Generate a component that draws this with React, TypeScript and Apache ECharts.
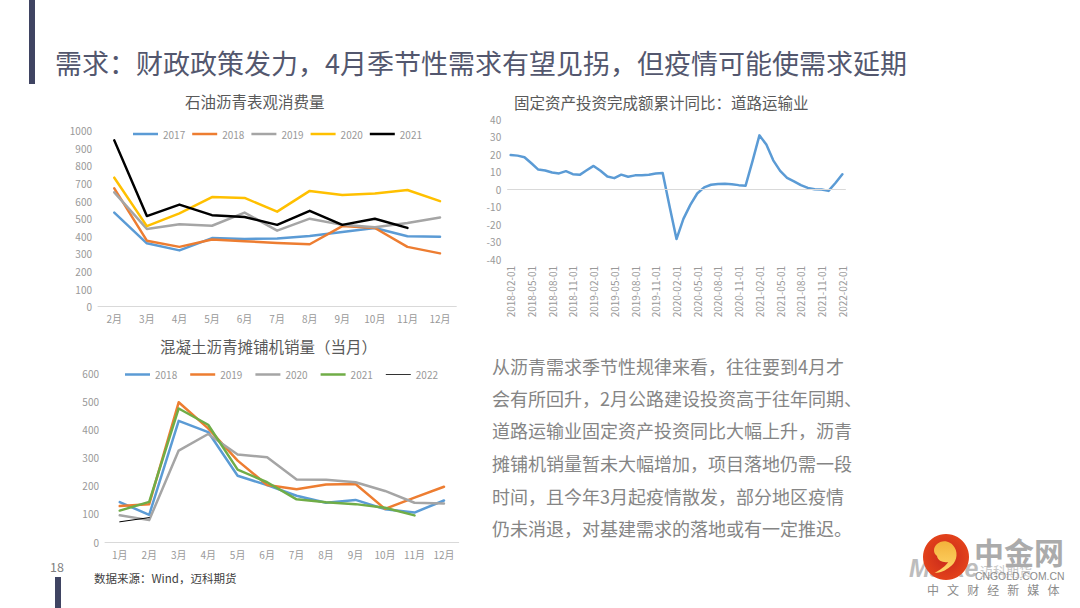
import React, { useEffect, useRef } from "react";
import * as echarts from "echarts";

const FONT = '"Noto Sans CJK SC", "Noto Sans", sans-serif';

const pageTitle = "需求：财政政策发力，4月季节性需求有望见拐，但疫情可能使需求延期";
const paragraph = [
  "从沥青需求季节性规律来看，往往要到4月才",
  "会有所回升，2月公路建设投资高于往年同期、",
  "道路运输业固定资产投资同比大幅上升，沥青",
  "摊铺机销量暂未大幅增加，项目落地仍需一段",
  "时间，且今年3月起疫情散发，部分地区疫情",
  "仍未消退，对基建需求的落地或有一定推迟。",
];

const BLUE = "#5B9BD5";
const ORANGE = "#ED7D31";
const GRAY = "#A5A5A5";
const YELLOW = "#FFC000";
const GREEN = "#70AD47";
const BLACK = "#000000";

const monthsA = ["2月", "3月", "4月", "5月", "6月", "7月", "8月", "9月", "10月", "11月", "12月"];
const asphalt2017 = [535, 360, 320, 390, 385, 388, 402, 425, 447, 400, 398];
const asphalt2018 = [672, 375, 340, 382, 372, 362, 355, 458, 447, 340, 303];
const asphalt2019 = [650, 442, 468, 460, 535, 432, 500, 465, 452, 475, 507];
const asphalt2020 = [733, 458, 530, 623, 618, 540, 658, 635, 643, 663, 600];
const asphalt2021 = [945, 515, 580, 520, 510, 465, 545, 465, 500, 448, null];

const monthsB = ["1月", "2月", "3月", "4月", "5月", "6月", "7月", "8月", "9月", "10月", "11月", "12月"];
const paver2018 = [142, 97, 432, 392, 236, 203, 165, 140, 150, 117, 105, 148];
const paver2019 = [128, 135, 498, 405, 290, 203, 188, 205, 207, 118, 158, 197];
const paver2020 = [95, 78, 326, 385, 312, 302, 223, 222, 213, 182, 140, 137];
const paver2021 = [112, 143, 476, 418, 258, 213, 152, 142, 135, 122, 95, null];
const paver2022 = [72, 87, null, null, null, null, null, null, null, null, null, null];

const investDates = [
  "2018-02-01", "2018-03-01", "2018-04-01", "2018-05-01", "2018-06-01", "2018-07-01", "2018-08-01",
  "2018-09-01", "2018-10-01", "2018-11-01", "2018-12-01", "2019-01-01", "2019-02-01", "2019-03-01",
  "2019-04-01", "2019-05-01", "2019-06-01", "2019-07-01", "2019-08-01", "2019-09-01", "2019-10-01",
  "2019-11-01", "2019-12-01", "2020-01-01", "2020-02-01", "2020-03-01", "2020-04-01", "2020-05-01",
  "2020-06-01", "2020-07-01", "2020-08-01", "2020-09-01", "2020-10-01", "2020-11-01", "2020-12-01",
  "2021-01-01", "2021-02-01", "2021-03-01", "2021-04-01", "2021-05-01", "2021-06-01", "2021-07-01",
  "2021-08-01", "2021-09-01", "2021-10-01", "2021-11-01", "2021-12-01", "2022-01-01", "2022-02-01",
];
const investValues = [
  19.5, 19.2, 18.3, 14.8, 11.2, 10.7, 9.5, 9.0, 10.3, 8.6, 8.2, 10.8, 13.3, 10.5, 7.2, 6.3, 8.3,
  7.1, 7.9, 8.0, 8.3, 9.0, 9.2, -10, -28.6, -17, -9, -2.5, 1, 2.5, 3, 3.1, 2.8, 2.3, 2.0, 16, 30.8,
  25.5, 16.5, 10.5, 6.5, 4.5, 2.3, 0.7, 0, -0.2, -1, 3.5, 8.5,
];

const swirl =
  "M-10,-14 C-4,-20 8,-18 12,-10 C17,-2 14,8 6,13 C1,17 -6,20 -13,20 C-6,16 1,12 4,7 C-2,8 -9,6 -10,0 C-15,-3 -15,-10 -10,-14 Z";

const THICK_ICON = "rect";
const THIN_ICON = "path://M0,0L0,0M0,3.4H100V6.6H0ZM0,10L0,10";

function line(name: string, data: any[], color: string, axis: number, width = 2.5) {
  return {
    name,
    type: "line",
    data,
    xAxisIndex: axis,
    yAxisIndex: axis,
    showSymbol: false,
    symbol: "none",
    connectNulls: false,
    lineStyle: { color, width, cap: "round", join: "round" },
    itemStyle: { color },
  };
}

function legendItem(name: string, color: string, icon = THICK_ICON) {
  return { name, icon, itemStyle: { color } };
}

const axisLabel = { color: "#999999", fontSize: 10, fontFamily: FONT };
const axisLine = { show: true, lineStyle: { color: "#D9D9D9", width: 1 } };

function title(text: string, left: number, top: number) {
  return { text, left, top, textStyle: { color: "#595959", fontSize: 15.5, fontWeight: "normal", fontFamily: FONT } };
}

export default function App() {
  const ref = useRef<HTMLDivElement>(null);
  useEffect(() => {
    echarts.graphic.registerShape("logoSwirl", echarts.graphic.extendPath(swirl as any, {}) as any);
    const chart = echarts.init(ref.current!, null, { renderer: "svg", width: 1080, height: 608 });
    const xCat = (data: string[], gridIndex: number, extra: any = {}) => ({
      type: "category",
      gridIndex,
      data,
      axisTick: { show: false },
      axisLine,
      axisLabel: { ...axisLabel, margin: 7, interval: 0 },
      ...extra,
    });
    const yVal = (gridIndex: number, min: number, max: number, interval: number) => ({
      type: "value",
      gridIndex,
      min,
      max,
      interval,
      axisLine: { show: false },
      axisTick: { show: false },
      splitLine: { show: false },
      axisLabel: { ...axisLabel, margin: 6, formatter: (v: number) => String(v) },
    });
    chart.setOption({
      animation: false,
      backgroundColor: "#FFFFFF",
      textStyle: { fontFamily: FONT },
      title: [
        title("石油沥青表观消费量", 180, 88),
        title("混凝土沥青摊铺机销量（当月）", 155, 333),
        title("固定资产投资完成额累计同比：道路运输业", 509, 89),
      ],
      grid: [
        { left: 98, top: 130.7, width: 358.3, height: 176 },
        { left: 105, top: 373.7, width: 353.7, height: 168.3 },
        { left: 507.2, top: 119.3, width: 338.6, height: 139.7 },
      ],
      xAxis: [
        xCat(monthsA, 0),
        xCat(monthsB, 1),
        xCat(investDates, 2, {
          axisLine: { show: false, onZero: false },
          axisLabel: { ...axisLabel, rotate: 90, interval: 2, margin: 7 },
        }),
      ],
      yAxis: [yVal(0, 0, 1000, 100), yVal(1, 0, 600, 100), yVal(2, -40, 40, 10)],
      legend: [
        {
          left: 128,
          top: 124,
          itemWidth: 25,
          itemHeight: 2.5,
          itemGap: 7,
          selectedMode: false,
          textStyle: { color: "#999999", fontSize: 10, fontFamily: FONT },
          data: [
            legendItem("2017", BLUE),
            legendItem("2018", ORANGE),
            legendItem("2019", GRAY),
            legendItem("2020", YELLOW),
            legendItem("2021", BLACK),
          ],
        },
        {
          left: 120,
          top: 364.5,
          itemWidth: 25,
          itemHeight: 2.5,
          itemGap: 13,
          selectedMode: false,
          textStyle: { color: "#999999", fontSize: 10, fontFamily: FONT },
          data: [
            legendItem("2018", BLUE),
            legendItem("2019", ORANGE),
            legendItem("2020", GRAY),
            legendItem("2021", GREEN),
            legendItem("2022", BLACK, THIN_ICON),
          ],
        },
      ],
      series: [
        line("2017", asphalt2017, BLUE, 0),
        line("2018", asphalt2018, ORANGE, 0),
        line("2019", asphalt2019, GRAY, 0),
        line("2020", asphalt2020, YELLOW, 0),
        line("2021", asphalt2021, BLACK, 0),
        line("2018", paver2018, BLUE, 1),
        line("2019", paver2019, ORANGE, 1),
        line("2020", paver2020, GRAY, 1),
        line("2021", paver2021, GREEN, 1),
        line("2022", paver2022, BLACK, 1, 1),
        {
          ...line("固定资产投资完成额累计同比", investValues, BLUE, 2),
          markLine: {
            silent: true,
            symbol: "none",
            label: { show: false },
            lineStyle: { color: "#D9D9D9", width: 1, type: "solid" },
            data: [{ yAxis: 0 }],
          },
        },
      ],
      graphic: [
        { type: "rect", shape: { x: 29, y: 0, width: 6, height: 84 }, style: { fill: "#3F4462" } },
        { type: "rect", shape: { x: 55, y: 577, width: 6, height: 31 }, style: { fill: "#3F4462" } },
        {
          type: "text",
          x: 55,
          y: 48.5,
          style: { text: pageTitle, fill: "#53576E", font: `27px ${FONT}` },
        },
        {
          type: "text",
          x: 50,
          y: 560,
          style: { text: "18", fill: "#7F7F7F", font: `12.5px ${FONT}` },
        },
        {
          type: "text",
          x: 94,
          y: 572,
          style: { text: "数据来源：Wind，迈科期货", fill: "#404040", font: `11.5px ${FONT}` },
        },
        ...paragraph.map((t, i) => ({
          type: "text",
          x: 492,
          y: 357 + [0, 32, 64, 97, 130, 162][i],
          style: { text: t, fill: "#858585", font: `18px ${FONT}` },
        })),
        {
          type: "text",
          x: 909,
          y: 555,
          style: { text: "Maike", fill: "#BDBDBD", font: `italic bold 25px "Liberation Sans", sans-serif` },
        },
        {
          type: "text",
          x: 980,
          y: 564,
          style: { text: "迈科期货", fill: "#C8C8C8", font: `13px ${FONT}` },
        },
        {
          type: "circle",
          shape: { cx: 946, cy: 557, r: 23 },
          style: {
            fill: {
              type: "radial",
              x: 0.5,
              y: 0.5,
              r: 0.6,
              colorStops: [
                { offset: 0, color: "#C8281C" },
                { offset: 1, color: "#E8471A" },
              ],
            },
          },
        },
        {
          type: "logoSwirl",
          x: 945,
          y: 556,
          scaleX: 0.8,
          scaleY: 0.85,
          style: {
            fill: {
              type: "linear",
              x: 0,
              y: 0,
              x2: 0,
              y2: 1,
              colorStops: [
                { offset: 0, color: "#F3B23B" },
                { offset: 1, color: "#FFD76A" },
              ],
            },
          },
        },
        {
          type: "text",
          x: 974,
          y: 536,
          style: { text: "中金网", fill: "#ABABAB", font: `bold 30px "Noto Sans CJK SC", sans-serif` },
        },
        {
          type: "text",
          x: 975,
          y: 571,
          style: { text: "CNGOLD.COM.CN", fill: "#8C8C8C", font: `10.4px "Liberation Sans", sans-serif` },
        },
        {
          type: "text",
          x: 927,
          y: 583,
          style: { text: "中   文   财   经   新   媒   体", fill: "#8C8C8C", font: `12px ${FONT}` },
        },
      ],
    });
    return () => chart.dispose();
  }, []);
  return (
    <div
      ref={ref}
      style={{ position: "fixed", left: 0, top: 0, width: 1080, height: 608, background: "#fff" }}
    />
  );
}
